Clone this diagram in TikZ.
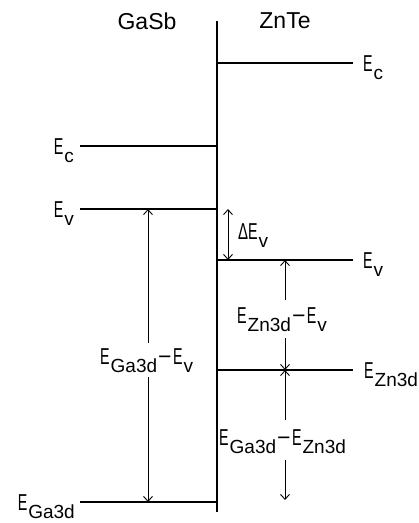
\documentclass[tikz,border=0pt]{standalone}
\usepackage{fontspec}
\usepackage{graphicx}
\setmainfont{Liberation Sans}
\usetikzlibrary{arrows.meta}
\newcommand{\EE}{\scalebox{0.62}[1]{E}}
\newcommand{\DD}{\scalebox{0.65}[1]{Δ}}
\newcommand{\sbx}[1]{\kern1pt\raisebox{-8pt}{\fontsize{19}{19}\selectfont #1}}
\newcommand{\mn}{\kern1pt−\kern1.5pt}
\begin{document}
\begin{tikzpicture}[x=1pt,y=-1pt,
  lvl/.style={line width=1.2pt},
  ax/.style={line width=1.4pt},
  dim/.style={line width=0.9pt,-{Straight Barb[length=5pt,width=9pt]}},
  dimb/.style={line width=0.9pt,{Straight Barb[length=5pt,width=9pt]}-{Straight Barb[length=5pt,width=9pt]}},
  txt/.style={inner sep=0pt,font=\fontsize{23}{23}\selectfont}]
\useasboundingbox (0,0) rectangle (419,523);
% axis
\coordinate (axT) at (217,21);
\coordinate (axB) at (217,512);
\draw[ax] (axT) -- (axB);
% headers
\node[txt,anchor=base] (hG) at (147,29) {GaSb};
\node[txt,anchor=base] (hZ) at (285,28) {ZnTe};
% levels
\coordinate (ZcL) at (217,63);  \coordinate (ZcR) at (353,63);
\coordinate (GcL) at (80,146);  \coordinate (GcR) at (217,146);
\coordinate (GvL) at (80,209);  \coordinate (GvR) at (217,209);
\coordinate (ZvL) at (217,260); \coordinate (ZvR) at (353,260);
\coordinate (ZdL) at (217,370); \coordinate (ZdR) at (353,370);
\coordinate (GdL) at (80,502);  \coordinate (GdR) at (217,502);
\draw[lvl] (ZcL) -- (ZcR);
\draw[lvl] (GcL) -- (GcR);
\draw[lvl] (GvL) -- (GvR);
\draw[lvl] (ZvL) -- (ZvR);
\draw[lvl] (ZdL) -- (ZdR);
\draw[lvl] (GdL) -- (GdR);
% level labels
\node[txt,anchor=base west] (lZc) at (363,71) {\EE\sbx{c}};
\node[txt,anchor=base east] (lGc) at (74,154) {\EE\sbx{c}};
\node[txt,anchor=base east] (lGv) at (74,217) {\EE\sbx{v}};
\node[txt,anchor=base west] (lZv) at (363,268) {\EE\sbx{v}};
\node[txt,anchor=base west] (lZd) at (364,378) {\EE\sbx{Zn3d}};
\node[txt,anchor=base east] (lGd) at (75,510) {\EE\sbx{Ga3d}};
% Delta Ev
\coordinate (dv1) at (228,209);
\coordinate (dv2) at (228,260);
\draw[dimb] (dv1) -- (dv2);
\node[txt,anchor=base west] (tdv) at (238,239) {\DD\EE\sbx{v}};
% EZn3d - Ev
\coordinate (a1) at (285,300);
\coordinate (a1t) at (285,260);
\coordinate (a2) at (285,338);
\coordinate (a2t) at (285,370);
\draw[dim] (a1) -- (a1t);
\draw[dim] (a2) -- (a2t);
\node[txt,anchor=base west] (tzv) at (237,323) {\EE\sbx{Zn3d}\mn\EE\sbx{v}};
% EGa3d - EZn3d
\coordinate (b1) at (285,420);
\coordinate (b1t) at (285,370);
\coordinate (b2) at (285,460);
\coordinate (b2t) at (285,500);
\draw[dim] (b1) -- (b1t);
\draw[dim] (b2) -- (b2t);
\node[txt,anchor=base west] (tgz) at (219,445) {\EE\sbx{Ga3d}\mn\EE\sbx{Zn3d}};
% EGa3d - Ev
\coordinate (c1) at (148,343);
\coordinate (c1t) at (148,209);
\coordinate (c2) at (148,377);
\coordinate (c2t) at (148,502);
\draw[dim] (c1) -- (c1t);
\draw[dim] (c2) -- (c2t);
\node[txt,anchor=base west] (tgv) at (100,364) {\EE\sbx{Ga3d}\mn\EE\sbx{v}};
\end{tikzpicture}
\end{document}
